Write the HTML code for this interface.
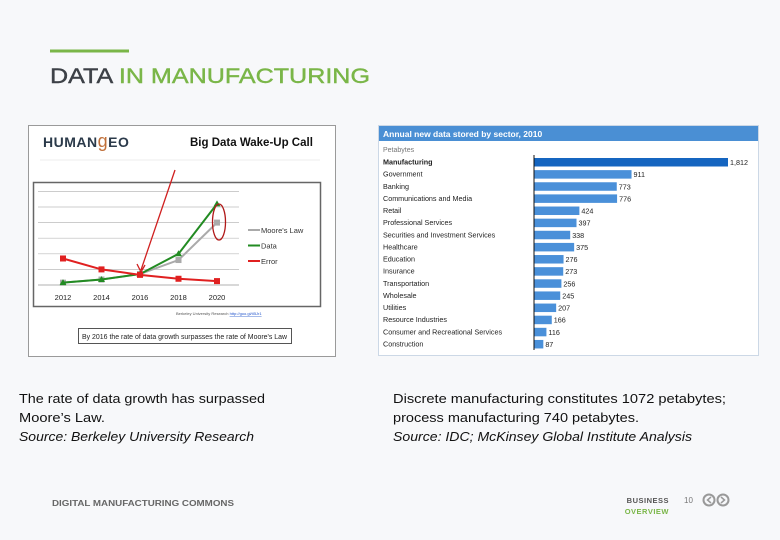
<!DOCTYPE html>
<html><head><meta charset="utf-8">
<style>
html,body{margin:0;padding:0;background:#f7f8fa;}
svg{display:block;font-family:"Liberation Sans",sans-serif;}
</style></head>
<body>
<svg id="slide" width="780" height="540" viewBox="0 0 780 540">
<rect width="780" height="540" fill="#f7f8fa"/>
<rect x="50" y="49.5" width="79" height="3" fill="#7ab648"/>
<text x="50" y="83" font-size="21" stroke-width="0.4" textLength="320" lengthAdjust="spacingAndGlyphs"><tspan fill="#3d4147" stroke="#3d4147">DATA </tspan><tspan fill="#7ab648" stroke="#7ab648">IN MANUFACTURING</tspan></text>

<g>
<rect x="28.5" y="125.5" width="307" height="231" fill="#fff" stroke="#9a9a9a"/>
<text x="43" y="147" font-size="14" font-weight="bold" fill="#2b3a4a" letter-spacing="0.5">HUMAN<tspan fill="#c0703a" font-size="18" font-weight="normal">g</tspan>EO</text>
<text x="190" y="146" font-size="11.5" font-weight="bold" fill="#111">Big Data Wake-Up Call</text>
<line x1="40" y1="160" x2="320" y2="160" stroke="#eee"/>
<rect x="33.5" y="182.5" width="287" height="124" fill="#fff" stroke="#666" stroke-width="1.5"/>
<g id="lineChart"></g>
<text x="176" y="315" font-size="4" fill="#555">Berkeley University Research <tspan fill="#2255cc" text-decoration="underline">http://goo.gl/tI5Jr1</tspan></text>
<rect x="78.5" y="328.5" width="213" height="15" fill="#fff" stroke="#555"/>
<text x="82" y="339" font-size="7" fill="#222" textLength="205" lengthAdjust="spacingAndGlyphs">By 2016 the rate of data growth surpasses the rate of Moore's Law</text>
</g>

<g>
<rect x="378.5" y="125.5" width="380" height="230" fill="#fff" stroke="#ccd8e6"/>
<rect x="379" y="126" width="379" height="15" fill="#4a8fd4"/>
<text x="383" y="137" font-size="8.5" font-weight="bold" fill="#fff">Annual new data stored by sector, 2010</text>
<text x="383" y="152" font-size="7" fill="#777">Petabytes</text>
<g id="barChart"></g>
</g>

<g font-size="13" fill="#111">
<text x="19" y="403" textLength="246" lengthAdjust="spacingAndGlyphs">The rate of data growth has surpassed</text>
<text x="19" y="422" textLength="86" lengthAdjust="spacingAndGlyphs">Moore’s Law.</text>
<text x="19" y="441" font-style="italic" textLength="235" lengthAdjust="spacingAndGlyphs">Source: Berkeley University Research</text></g>
<g font-size="13" fill="#111">
<text x="393" y="403" textLength="333" lengthAdjust="spacingAndGlyphs">Discrete manufacturing constitutes 1072 petabytes;</text>
<text x="393" y="422" textLength="246" lengthAdjust="spacingAndGlyphs">process manufacturing 740 petabytes.</text>
<text x="393" y="441" font-style="italic" textLength="299" lengthAdjust="spacingAndGlyphs">Source: IDC; McKinsey Global Institute Analysis</text></g>

<text x="52" y="506" font-size="8" font-weight="bold" fill="#666" textLength="182" lengthAdjust="spacingAndGlyphs">DIGITAL MANUFACTURING COMMONS</text>
<text x="669" y="503" font-size="7.5" font-weight="bold" fill="#555" text-anchor="end" letter-spacing="0.5">BUSINESS</text>
<text x="669" y="514" font-size="7.5" font-weight="bold" fill="#7ab648" text-anchor="end" letter-spacing="0.5">OVERVIEW</text>
<text x="684" y="503" font-size="8" fill="#777">10</text>
<g><circle cx="709" cy="500" r="5.5" fill="none" stroke="#999" stroke-width="2"/><path d="M711 497 L707.5 500 L711 503" fill="none" stroke="#999" stroke-width="1.5"/></g>
<g><circle cx="723" cy="500" r="5.5" fill="none" stroke="#999" stroke-width="2"/><path d="M721 497 L724.5 500 L721 503" fill="none" stroke="#999" stroke-width="1.5"/></g>
</svg>
<script>
const years = ["2012","2014","2016","2018","2020"];
const mooreValues = [0.15, 0.35, 0.7, 1.6, 4.0];
const dataValues = [0.15, 0.35, 0.7, 2.0, 5.2];
const errorValues = [1.7, 1.0, 0.65, 0.4, 0.25];
const lineTicks = [0,1,2,3,4,5,6];

const sectors = ["Manufacturing","Government","Banking","Communications and Media","Retail","Professional Services","Securities and Investment Services","Healthcare","Education","Insurance","Transportation","Wholesale","Utilities","Resource Industries","Consumer and Recreational Services","Construction"];
const petabytes = [1812, 911, 773, 776, 424, 397, 338, 375, 276, 273, 256, 245, 207, 166, 116, 87];
const petabyteLabels = ["1,812","911","773","776","424","397","338","375","276","273","256","245","207","166","116","87"];

const NS = "http://www.w3.org/2000/svg";
function mk(tag, attrs, parent){const e=document.createElementNS(NS,tag);for(const k in attrs)e.setAttribute(k,attrs[k]);parent.appendChild(e);return e;}

const lc = document.getElementById("lineChart");
const lx = i => 63 + i*38.5;
const ly = v => 285 - v*15.6;
lineTicks.forEach(t=>{
  const g=mk("line",{x1:38,x2:239,y1:ly(t),y2:ly(t),stroke:t===0?"#999":"#bbb","stroke-width":0.7},lc);
  
  
});
years.forEach((y,i)=>{
  const t=mk("text",{x:lx(i),y:300,"font-size":7.5,fill:"#222","text-anchor":"middle"},lc);t.textContent=y;
  
  
});
function series(vals,color,marker,name){
  const p=mk("polyline",{points:vals.map((v,i)=>lx(i)+","+ly(v)).join(" "),fill:"none",stroke:color,"stroke-width":2},lc);
  
  
  vals.forEach((v,i)=>{
    let m;
    if(marker==="tri") m=mk("path",{d:`M${lx(i)} ${ly(v)-3.5} L${lx(i)+3.5} ${ly(v)+2.5} L${lx(i)-3.5} ${ly(v)+2.5}Z`,fill:color},lc);
    else m=mk("rect",{x:lx(i)-3,y:ly(v)-3,width:6,height:6,fill:color},lc);
    
    
  });
}
series(mooreValues,"#aaaaaa","sq","moores-law");
series(dataValues,"#228b22","tri","data");
series(errorValues,"#e02020","sq","error");
[["Moore's Law","#aaaaaa","sq"],["Data","#228b22","tri"],["Error","#e02020","sq"]].forEach((l,i)=>{
  const y=230+i*15.5;
  const ln=mk("line",{x1:248,x2:260,y1:y,y2:y,stroke:l[1],"stroke-width":2},lc);
  
  
  const t=mk("text",{x:261,y:y+3,"font-size":7.5,fill:"#333"},lc);t.textContent=l[0];
  
  
});
const arrow=mk("path",{d:"M175 170 L141 270 M137 264 L141 272 L145 265",fill:"none",stroke:"#d02020","stroke-width":1.3},lc);


const ell=mk("ellipse",{cx:219,cy:222,rx:6.5,ry:18,fill:"none",stroke:"#b01818","stroke-width":1.3},lc);



const bc = document.getElementById("barChart");
const bx0 = 534, bScale = 194/1812;
const rowY = i => 162 + i*12.13;
sectors.forEach((s,i)=>{
  const t=mk("text",{x:383,y:rowY(i)+2.5,"font-size":7.2,fill:"#222","font-weight":i===0?"bold":"normal"},bc);t.textContent=s;
  
  
  const w=petabytes[i]*bScale;
  const r=mk("rect",{x:bx0,y:rowY(i)-4,width:w,height:8.5,fill:i===0?"#1565c0":"#4a90d9"},bc);
  
  
  const v=mk("text",{x:bx0+w+2,y:rowY(i)+3,"font-size":7.2,fill:"#222"},bc);v.textContent=petabyteLabels[i];
  
  
});
const ax=mk("line",{x1:bx0,x2:bx0,y1:155,y2:350,stroke:"#111","stroke-width":1},bc);


</script>
</body></html>
